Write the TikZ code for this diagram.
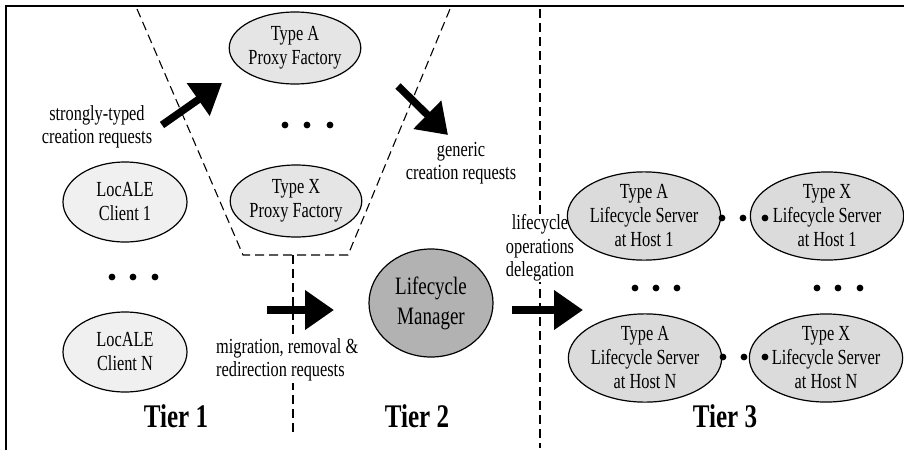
\documentclass[tikz,border=0pt]{standalone}
\usepackage{fontspec}
\setmainfont{Liberation Serif}[FakeStretch=0.76]
\usetikzlibrary{shapes.geometric,arrows.meta}
\tikzset{
  ell/.style={ellipse, draw, line width=1.2pt, inner sep=0pt, align=center,
              font=\fontsize{21.5}{24}\selectfont},
  client/.style={ell, fill=black!6, minimum width=124pt, minimum height=80pt},
  proxy/.style={ell, fill=black!10, minimum width=122pt, minimum height=72pt},
  server/.style={ell, fill=black!14, minimum width=123pt, minimum height=82pt},
  manager/.style={ell, fill=black!30, minimum width=124pt, minimum height=108pt,
              font=\fontsize{25}{30}\selectfont},
  lbl/.style={align=center, font=\fontsize{21.5}{23.5}\selectfont, inner sep=1pt},
  tier/.style={font=\fontsize{33}{33}\selectfont\bfseries, anchor=base, inner sep=0pt},
  bigarrow/.style={line width=7.5pt, -{Triangle[length=29pt,width=38pt]}},
  divider/.style={dash pattern=on 9pt off 5pt, line width=1.1pt},
  frameline/.style={line width=2.5pt},
  dotmark/.style={fill=black}
}
\begin{document}
\begin{tikzpicture}[x=1pt,y=-1pt]
\useasboundingbox (0,0) rectangle (904,450);
% frame (top and left edges only visible)
\coordinate (ftl) at (6,6);
\coordinate (ftr) at (904,6);
\coordinate (fbl) at (6,450);
\draw[frameline] (ftr) -- (ftl) -- (fbl);

% dashed tier dividers
\coordinate (f1) at (137,9);
\coordinate (f2) at (243,255);
\coordinate (f3) at (348,255);
\coordinate (f4) at (450,9);
\coordinate (fm) at (293,255);
\coordinate (fb) at (293,436);
\coordinate (r1) at (540,9);
\coordinate (r2) at (540,448);
\draw[divider] (f1) -- (f2) -- (f3) -- (f4);
\draw[divider] (fm) -- (fb);
\draw[divider] (r1) -- (r2);

% labels
\node[lbl] (strong) at (97,127) {strongly-typed\\creation requests};
\node[lbl] (generic) at (461,163) {generic\\creation requests};
\node[lbl, align=left, anchor=west, fill=white] (migr) at (215,360) {migration, removal \&\\redirection requests};
\node[lbl, fill=white] (deleg) at (540,248) {lifecycle\\operations\\delegation};

% nodes
\node[proxy] (pa) at (295,48) {Type A\\Proxy Factory};
\node[proxy] (px) at (296,201) {Type X\\Proxy Factory};
\node[client] (c1) at (125,202) {LocALE\\Client 1};
\node[client] (cn) at (125,352) {LocALE\\Client N};
\node[manager] (lm) at (431,303) {Lifecycle\\Manager};
\node[server] (sa1) at (644,216) {Type A\\Lifecycle Server\\at Host 1};
\node[server] (sx1) at (827,216) {Type X\\Lifecycle Server\\at Host 1};
\node[server] (san) at (645,358) {Type A\\Lifecycle Server\\at Host N};
\node[server] (sxn) at (826,358) {Type X\\Lifecycle Server\\at Host N};

% tier titles
\node[tier] (t1) at (176,427) {Tier 1};
\node[tier] (t2) at (417,427) {Tier 2};
\node[tier] (t3) at (725,427) {Tier 3};

% block arrows
\coordinate (a1s) at (162,125);
\coordinate (a1e) at (222,83);
\coordinate (a2s) at (398,86);
\coordinate (a2e) at (448,135);
\coordinate (a3s) at (267,310);
\coordinate (a3e) at (334,310);
\coordinate (a4s) at (512,310);
\coordinate (a4e) at (583,310);
\draw[bigarrow] (a1s) -- (a1e);
\draw[bigarrow] (a2s) -- (a2e);
\draw[bigarrow] (a3s) -- (a3e);
\draw[bigarrow] (a4s) -- (a4e);

% ellipsis dots
\foreach \x/\y in {285/125,307/125,330/125,
                   112/277,133/277,155/277,
                   722/218,743/218,765/218,
                   635/288,656/288,677/288,
                   817/288,838/288,860/288,
                   723/357,744/357,765/357}
  \fill[dotmark] (\x,\y) circle[radius=3.4pt];
\end{tikzpicture}
\end{document}
